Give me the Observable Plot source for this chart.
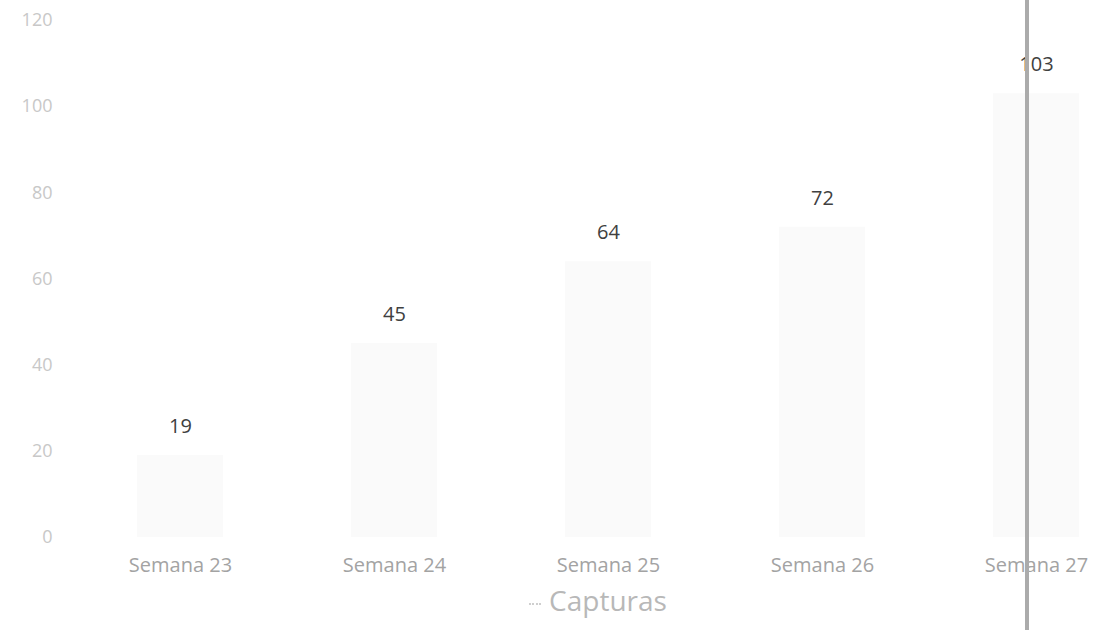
<!DOCTYPE html>
<html>
<head>
<meta charset="utf-8">
<script src="https://cdn.jsdelivr.net/npm/d3@7"></script>
<script src="https://cdn.jsdelivr.net/npm/@observablehq/plot@0.6"></script>
<style>
  html, body { margin: 0; padding: 0; background: #fff; overflow: hidden; width: 1093px; height: 630px; }
  #chart { position: relative; width: 1093px; height: 630px; font-family: "Open Sans", "Noto Sans", sans-serif; }
  #legend { position: absolute; left: 0; top: 586px; width: 1196px; text-align: center; font-size: 28px; line-height: 28px; color: #b8b8b8; }
  #legend .sw { display: inline-block; width: 12px; height: 0; border-top: 2px dotted #cfcfcf; margin-right: 8px; vertical-align: middle; }
  #edge { position: absolute; left: 1025px; top: 0; width: 4px; height: 630px; background: #ababab; }
</style>
</head>
<body>
<div id="chart"></div>
<script>
const categories = ["Semana 23", "Semana 24", "Semana 25", "Semana 26", "Semana 27"];
const capturas = [19, 45, 64, 72, 103];
const yTicks = [0, 20, 40, 60, 80, 100, 120];
const seriesName = "Capturas";

const data = categories.map((c, i) => ({semana: c, valor: capturas[i]}));

const plot = Plot.plot({
  width: 1093,
  height: 560,
  marginTop: 20,
  marginBottom: 23,
  marginLeft: 73,
  marginRight: 0,
  style: {fontFamily: "'Open Sans', 'Noto Sans', sans-serif", background: "transparent", overflow: "visible"},
  x: {domain: categories, range: [73, 1143], paddingInner: 0.6, paddingOuter: 0.3},
  y: {domain: [0, 120], range: [537, 20]},
  marks: [
    Plot.barY(data, {x: "semana", y: "valor", fill: "#fafafa"}),
    Plot.text(data, {x: "semana", y: "valor", text: d => String(d.valor), dy: -29, fill: "#404040", fontSize: 20}),
    Plot.axisY(yTicks, {tickSize: 0, tickPadding: 21, fill: "#c8c8c8", fontSize: 18, label: null}),
    Plot.axisX({tickSize: 0, tickPadding: 20, fill: "#a3a3a3", fontSize: 20, label: null})
  ]
});
plot.style.position = "absolute";
plot.style.left = "0px";
plot.style.top = "0px";
document.getElementById("chart").appendChild(plot);

const legend = document.createElement("div");
legend.id = "legend";
legend.innerHTML = '<span class="sw"></span>' + seriesName;
document.getElementById("chart").appendChild(legend);

const edge = document.createElement("div");
edge.id = "edge";
document.getElementById("chart").appendChild(edge);
</script>
</body>
</html>
